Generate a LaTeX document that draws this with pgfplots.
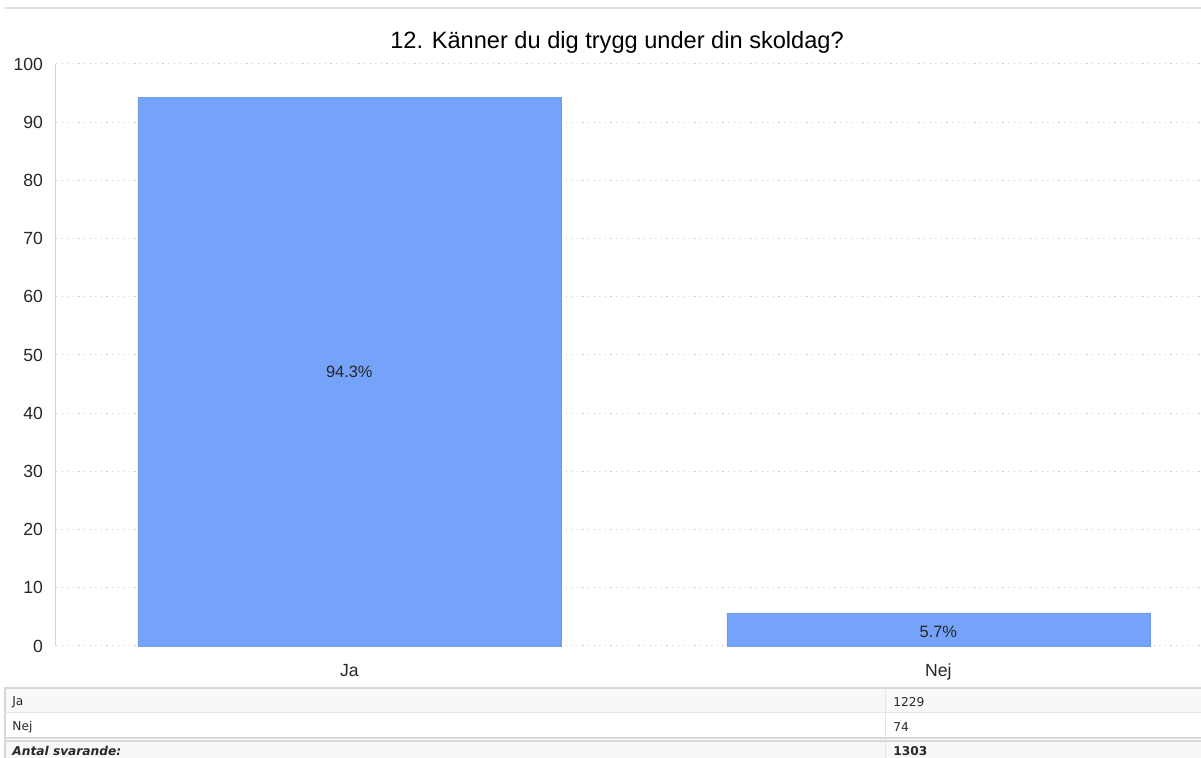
\documentclass[border=0pt]{standalone}
\usepackage{fontspec}
\setmainfont{Liberation Sans}
\newfontfamily\tablefont{DejaVu Sans}
\usepackage{pgfplots}
\pgfplotsset{compat=1.18}
\definecolor{barblue}{RGB}{117,163,249}
\definecolor{gridgray}{RGB}{205,205,205}
\definecolor{tabline}{RGB}{215,215,215}
\definecolor{tabfill}{RGB}{248,248,248}
\definecolor{tabtext}{RGB}{40,40,40}

\begin{document}
\begin{tikzpicture}
% 1 px of the reference = 0.5pt; plot area starts at px (56,646)
\path[use as bounding box] (-28pt,-56pt) rectangle (572.5pt,323pt);
\draw[tabline!80, line width=0.6pt] (-25.5pt,319pt) -- (572.5pt,319pt);

\begin{axis}[
    name=ax,
    scale only axis,
    width=572.5pt, height=291pt,
    xmin=-0.498, xmax=1.446,
    ymin=0, ymax=100,
    ytick={0,10,...,100},
    xtick={0,1},
    xticklabels={Ja,Nej},
    major tick length=0pt,
    axis line style={draw=none},
    ymajorgrids,
    major grid style={gridgray, line width=0.5pt, dash pattern=on 0.6pt off 2.2pt},
    /pgf/number format/assume math mode=true,
    tick label style={font=\fontsize{8.8}{10}\selectfont, text=black!85},
    yticklabel style={xshift=-3pt},
    xticklabel style={yshift=-5.5pt},
    title={12. Känner du dig trygg under din skoldag?},
    title style={font=\fontsize{11.8}{14}\selectfont, at={(0.49,1)}, yshift=-4pt},
    clip=false,
]
\draw[gridgray!80, line width=0.5pt] (rel axis cs:0,0) -- (rel axis cs:0,1);
\addplot[ybar, bar width=211.5pt, fill=barblue, draw=barblue!95!black, line width=0.2pt]
    coordinates {(0,94.3) (1,5.7)};
\addplot[draw=none, mark=none, nodes near coords, point meta=explicit symbolic,
    every node near coord/.append style={anchor=center, font=\fontsize{8.2}{10}\selectfont, text=black!85}]
    coordinates {(0,47.15)[94.3\%] (1,2.4)[5.7\%]};
\end{axis}

% summary table below the chart
\fill[tabfill] (-25.5pt,-21pt) rectangle (572.5pt,-33pt);
\fill[tabfill] (-25.5pt,-47.5pt) rectangle (572.5pt,-56pt);
\draw[tabline, line width=0.6pt] (-25.5pt,-56pt) -- (-25.5pt,-21pt) -- (572.5pt,-21pt);
\draw[tabline!60, line width=0.4pt] (-25.5pt,-33pt) -- (572.5pt,-33pt);
\draw[tabline, line width=0.6pt] (-25.5pt,-46pt) -- (572.5pt,-46pt);
\draw[tabline, line width=0.6pt] (-25.5pt,-47.5pt) -- (572.5pt,-47.5pt);
\draw[tabline!70, line width=0.4pt] (414.5pt,-21pt) -- (414.5pt,-56pt);
\begin{scope}[every node/.style={anchor=west, inner sep=0pt, text=tabtext, font=\tablefont\fontsize{6.1}{7}\selectfont}]
\node at (-22pt,-28pt) {Ja};
\node at (-22pt,-40.5pt) {Nej};
\node at (-22pt,-52.5pt) {\bfseries\itshape Antal svarande:};
\node at (418.5pt,-28pt) {1229};
\node at (418.5pt,-40.5pt) {74};
\node at (418.5pt,-52.5pt) {\bfseries 1303};
\end{scope}
\end{tikzpicture}
\end{document}
